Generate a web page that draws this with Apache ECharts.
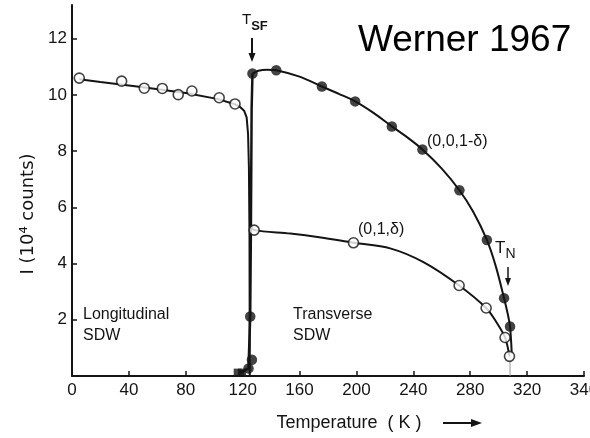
<!DOCTYPE html>
<html>
<head>
<meta charset="utf-8">
<script src="https://cdn.jsdelivr.net/npm/echarts@6/dist/echarts.min.js"></script>
<style>
  html, body { margin: 0; padding: 0; background: #fff; }
  #chart { width: 590px; height: 438px; }
</style>
</head>
<body>
<div id="chart"></div>
<script>
// Tick labels along the temperature axis (one per 40 K tick, as printed)
const xTickLabels = ['0', '40', '80', '120', '160', '200', '240', '280', '320', '340'];

// Longitudinal SDW phase: open circles [T (K), I (10^4 counts)]
const longitudinalPoints = [
  [5.1, 10.60], [34.9, 10.49], [50.8, 10.24], [63.5, 10.23],
  [74.7, 10.01], [84.3, 10.14], [103.5, 9.90], [114.6, 9.68]
];
// Fitted curve through the longitudinal data, plunging at T_SF
const longitudinalCurve = [
  [5.1, 10.56], [20, 10.46], [50, 10.27], [80, 10.07], [102, 9.86],
  [114, 9.68], [118, 9.58], [121, 9.44], [122.8, 9.2], [123.8, 8.6],
  [124.4, 7.4], [124.8, 5.0], [125.0, 0]
];

// (0,0,1-δ) reflection: filled circles
const reflection001Points = [
  [124.1, 0.27], [126.5, 0.58], [125.3, 2.12], [126.9, 10.76],
  [143.6, 10.88], [175.7, 10.30], [199.1, 9.77], [224.9, 8.88],
  [246.4, 8.06], [272.4, 6.61], [291.7, 4.84], [303.8, 2.77], [308.0, 1.76]
];
// (0,0,1-δ) points just below T_SF: filled squares
const reflection001Squares = [[116.5, 0.12], [119.5, 0.12]];
// Steep rise of the (0,0,1-δ) intensity at T_SF
const reflection001Rise = [
  [118, 0.12], [124.1, 0.27], [125.3, 2.12], [125.8, 5.3], [126.3, 9.5], [126.9, 10.76]
];
// Curve for (0,0,1-δ) above T_SF
const reflection001Curve = [
  [126.9, 10.76], [131, 10.86], [137, 10.90], [143.6, 10.88], [160, 10.65],
  [175.7, 10.30], [188, 10.03], [199.1, 9.77], [212, 9.36], [224.9, 8.88],
  [236, 8.48], [246.4, 8.06], [260, 7.38], [272.4, 6.61], [282, 5.85],
  [291.7, 4.84], [298, 3.90], [303.8, 2.77], [306.2, 2.25], [308.0, 1.76],
  [309.2, 0.8]
];

// (0,1,δ) reflection: open circles
const reflection01Points = [
  [128.1, 5.19], [197.9, 4.74], [272.2, 3.22], [291.2, 2.42], [304.5, 1.37], [307.6, 0.70]
];
// Curve for (0,1,δ)
const reflection01Curve = [
  [126.0, 5.32], [128.1, 5.19], [153.5, 5.07], [175, 4.93], [197.9, 4.74],
  [223.7, 4.54], [247.1, 4.05], [272.2, 3.22], [291.2, 2.42], [298, 1.95],
  [304.5, 1.37], [307.6, 0.70]
];
// Faint drop line at T_N
const neelDrop = [[308.0, 0.70], [308.0, 0]];

const ink = '#141414';
const font = 'Liberation Sans, Arial, sans-serif';

const chart = echarts.init(document.getElementById('chart'), null, { renderer: 'canvas' });

function lineSeries(data, width, color, smooth) {
  return {
    type: 'line', data: data, showSymbol: false, symbol: 'none',
    smooth: smooth || false,
    lineStyle: { color: color || ink, width: width }, z: 2, silent: true, animation: false
  };
}

chart.setOption({
  backgroundColor: '#ffffff',
  animation: false,
  grid: { left: 72, right: 6, top: 5, bottom: 62, containLabel: false, outerBoundsMode: 'none' },
  xAxis: {
    type: 'value', min: 0, max: 360, interval: 40,
    axisLine: { lineStyle: { color: ink, width: 2 } },
    axisTick: { inside: true, length: 5, lineStyle: { color: ink, width: 1.5 } },
    axisLabel: {
      color: ink, fontSize: 17, fontFamily: font, margin: 6,
      alignMinLabel: 'center', alignMaxLabel: 'center', hideOverlap: false,
      formatter: function (v) { return xTickLabels[Math.round(v / 40)] || ''; }
    },
    splitLine: { show: false }
  },
  yAxis: {
    type: 'value', min: 0, max: 13.2, interval: 2,
    axisLine: { show: true, lineStyle: { color: ink, width: 2 } },
    axisTick: { show: true, inside: true, length: 5, lineStyle: { color: ink, width: 1.5 } },
    axisLabel: { color: ink, fontSize: 17, fontFamily: font, margin: 5, showMinLabel: false, showMaxLabel: false },
    splitLine: { show: false }
  },
  series: [
    lineSeries(longitudinalCurve, 2, ink, false),
    lineSeries(reflection001Rise, 2.5, ink, false),
    lineSeries(reflection001Curve, 2, ink, 0.3),
    lineSeries(reflection01Curve, 2, ink, 0.3),
    lineSeries(neelDrop, 1, '#999999', false),
    {
      type: 'scatter', data: reflection001Squares, symbol: 'rect', symbolSize: 8,
      itemStyle: { color: ink }, z: 3, silent: true
    },
    {
      type: 'scatter', data: reflection001Points, symbol: 'circle', symbolSize: 10.5,
      itemStyle: { color: ink }, z: 3, silent: true
    },
    {
      type: 'scatter', data: longitudinalPoints.concat(reflection01Points), symbol: 'circle', symbolSize: 10,
      itemStyle: { color: '#ffffff', borderColor: ink, borderWidth: 1.6 }, z: 4, silent: true
    }
  ],
  graphic: [
    // Title label
    { type: 'text', left: 358, top: 22, z: 10,
      style: { text: 'Werner 1967', font: '37px ' + font, fill: '#000000' } },
    // Axis titles
    { type: 'text', x: 28, y: 214, rotation: Math.PI / 2, z: 10,
      style: { text: 'I (10\u2074 counts)', font: '18px DejaVu Sans, sans-serif', fill: ink,
               align: 'center', verticalAlign: 'middle' } },
    { type: 'text', x: 349, y: 423, z: 10,
      style: { text: 'Temperature  ( K )', font: '18px ' + font, fill: ink,
               align: 'center', verticalAlign: 'middle' } },
    { type: 'line', z: 10, shape: { x1: 443, y1: 423, x2: 474, y2: 423 },
      style: { stroke: ink, lineWidth: 2 } },
    { type: 'polygon', z: 10, shape: { points: [[482, 423], [471, 419], [471, 427]] },
      style: { fill: ink } },
    // Transition markers
    { type: 'text', x: 242, y: 20, z: 10,
      style: { text: '{t|T}{s|SF}', fill: ink, verticalAlign: 'middle',
               rich: { t: { font: '15px ' + font, fill: ink },
                       s: { font: 'bold 13px ' + font, fill: ink, padding: [12, 0, 0, 0] } } } },
    { type: 'line', z: 10, shape: { x1: 252, y1: 38, x2: 252, y2: 56 },
      style: { stroke: ink, lineWidth: 2 } },
    { type: 'polygon', z: 10, shape: { points: [[252, 62], [248.5, 53], [255.5, 53]] },
      style: { fill: ink } },
    { type: 'text', x: 495, y: 248, z: 10,
      style: { text: '{t|T}{s|N}', fill: ink, verticalAlign: 'middle',
               rich: { t: { font: '17px ' + font, fill: ink },
                       s: { font: '14px ' + font, fill: ink, padding: [12, 0, 0, 0] } } } },
    { type: 'line', z: 10, shape: { x1: 508, y1: 267, x2: 508, y2: 280 },
      style: { stroke: ink, lineWidth: 1.5 } },
    { type: 'polygon', z: 10, shape: { points: [[508, 286], [505, 278], [511, 278]] },
      style: { fill: ink } },
    // Reflection labels
    { type: 'text', x: 427, y: 142, z: 10,
      style: { text: '(0,0,1-\u03b4)', font: '16px ' + font, fill: ink, verticalAlign: 'middle' } },
    { type: 'text', x: 358, y: 230, z: 10,
      style: { text: '(0,1,\u03b4)', font: '16px ' + font, fill: ink, verticalAlign: 'middle' } },
    // Phase labels
    { type: 'text', x: 83, y: 304, z: 10,
      style: { text: 'Longitudinal\nSDW', font: '16px ' + font, fill: ink, lineHeight: 21 } },
    { type: 'text', x: 293, y: 304, z: 10,
      style: { text: 'Transverse\nSDW', font: '16px ' + font, fill: ink, lineHeight: 21 } }
  ]
});
</script>
</body>
</html>
